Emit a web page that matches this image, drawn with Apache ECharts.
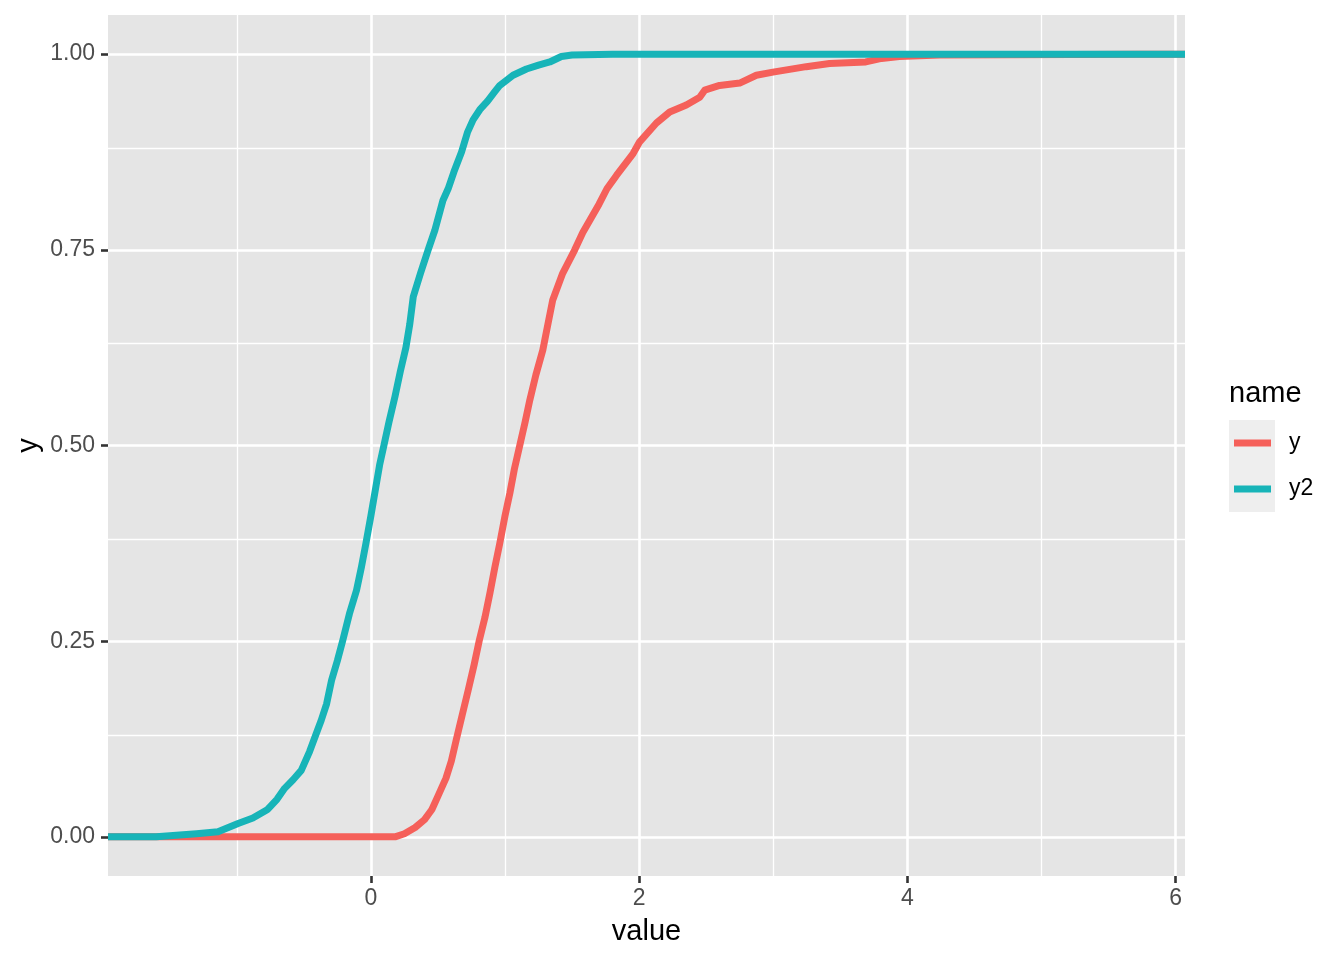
<!DOCTYPE html>
<html>
<head>
<meta charset="utf-8">
<script src="https://cdn.jsdelivr.net/npm/echarts@6/dist/echarts.min.js"></script>
<style>
html,body{margin:0;padding:0;background:#fff;}
#chart{width:1344px;height:960px;}
</style>
</head>
<body>
<div id="chart"></div>
<script>
// ---- data (ECDF: x value at cumulative proportion) ----
const seriesNames = ['y', 'y2'];

const yX = [0.18, 0.25, 0.33, 0.40, 0.455, 0.50, 0.56, 0.60, 0.638, 0.68, 0.725, 0.77, 0.807, 0.85, 0.887, 0.925, 0.961, 1.0, 1.036, 1.07, 1.11, 1.15, 1.185, 1.23, 1.282, 1.32, 1.356, 1.43, 1.52, 1.58, 1.64, 1.70, 1.76, 1.831, 1.955, 2.004, 2.129, 2.228, 2.352, 2.452, 2.489, 2.60, 2.75, 2.874, 2.998, 3.246, 3.42, 3.69, 3.79, 3.94, 4.24, 5.71];
const yP = [0, 0.004, 0.012, 0.022, 0.035, 0.052, 0.075, 0.097, 0.125, 0.155, 0.187, 0.22, 0.25, 0.28, 0.311, 0.345, 0.375, 0.41, 0.439, 0.47, 0.50, 0.53, 0.558, 0.59, 0.622, 0.655, 0.686, 0.72, 0.75, 0.772, 0.79, 0.808, 0.828, 0.845, 0.873, 0.888, 0.912, 0.926, 0.935, 0.945, 0.954, 0.960, 0.963, 0.973, 0.977, 0.984, 0.988, 0.990, 0.994, 0.997, 0.999, 1.0];

const y2X = [-1.60, -1.45, -1.30, -1.14, -0.99, -0.88, -0.77, -0.70, -0.643, -0.58, -0.519, -0.457, -0.407, -0.370, -0.33, -0.293, -0.25, -0.211, -0.16, -0.107, -0.07, -0.037, 0.0, 0.037, 0.065, 0.097, 0.135, 0.179, 0.22, 0.261, 0.29, 0.316, 0.37, 0.427, 0.477, 0.537, 0.576, 0.62, 0.676, 0.72, 0.762, 0.812, 0.87, 0.924, 0.961, 1.06, 1.16, 1.25, 1.334, 1.42, 1.50, 1.80];
const y2P = [0, 0.002, 0.004, 0.0064, 0.017, 0.024, 0.035, 0.048, 0.062, 0.073, 0.085, 0.109, 0.132, 0.149, 0.17, 0.200, 0.225, 0.25, 0.285, 0.315, 0.345, 0.375, 0.41, 0.447, 0.475, 0.50, 0.53, 0.562, 0.595, 0.625, 0.655, 0.690, 0.72, 0.75, 0.775, 0.813, 0.828, 0.85, 0.875, 0.90, 0.916, 0.929, 0.94, 0.952, 0.960, 0.973, 0.981, 0.986, 0.990, 0.997, 0.999, 1.0];

const xMajor = [0, 2, 4, 6];
const xMinor = [-1, 1, 3, 5];
const yMajor = [0, 0.25, 0.5, 0.75, 1.0];
const yMinor = [0.125, 0.375, 0.625, 0.875];
const xLimits = [-1.96, 6.07];
const yLimits = [-0.05, 1.05];

// ---- styling ----
const COLORS = ['#F5605A', '#17B4B8'];
const PANEL = '#E5E5E5';
const KEYBG = '#EEEEEE';
const FONT = '"Liberation Sans", Arial, Helvetica, sans-serif';

function ecdfData(xs, ps) {
  const d = [[xLimits[0], 0]];
  for (let i = 0; i < xs.length; i++) d.push([xs[i], ps[i]]);
  d.push([xLimits[1], 1]);
  return d;
}

const gridLines = [];
xMinor.forEach(v => gridLines.push({xAxis: v, lineStyle: {color: '#fff', width: 1.3, type: 'solid'}}));
yMinor.forEach(v => gridLines.push({yAxis: v, lineStyle: {color: '#fff', width: 1.3, type: 'solid'}}));
xMajor.forEach(v => gridLines.push({xAxis: v, lineStyle: {color: '#fff', width: 2.6, type: 'solid'}}));
yMajor.forEach(v => gridLines.push({yAxis: v, lineStyle: {color: '#fff', width: 2.6, type: 'solid'}}));

const chart = echarts.init(document.getElementById('chart'), null, {renderer: 'canvas'});

const tickStyle = {color: '#333333', width: 2.6};

const option = {
  animation: false,
  backgroundColor: '#fff',
  grid: {
    left: 108, top: 15, right: 159, bottom: 84,
    show: true, backgroundColor: PANEL, borderWidth: 0
  },
  xAxis: {
    type: 'value',
    min: xLimits[0], max: xLimits[1],
    axisLine: {show: false, onZero: false},
    splitLine: {show: false},
    axisTick: {show: true, customValues: xMajor, length: 7, lineStyle: tickStyle},
    axisLabel: {
      customValues: xMajor, margin: 11,
      color: '#4D4D4D', fontSize: 23, fontFamily: FONT,
      formatter: v => String(v)
    }
  },
  yAxis: {
    type: 'value',
    min: yLimits[0], max: yLimits[1],
    axisLine: {show: false, onZero: false},
    splitLine: {show: false},
    axisTick: {show: true, customValues: yMajor, length: 7, lineStyle: tickStyle},
    axisLabel: {
      customValues: yMajor, margin: 13,
      color: '#4D4D4D', fontSize: 23, fontFamily: FONT,
      formatter: v => v.toFixed(2)
    }
  },
  series: [
    {
      type: 'line', name: 'grid', data: [], z: 1, silent: true,
      markLine: {
        z: 1, silent: true, symbol: ['none', 'none'], label: {show: false},
        animation: false, emphasis: {disabled: true},
        data: gridLines
      }
    },
    {
      type: 'line', name: seriesNames[0], data: ecdfData(yX, yP), z: 3,
      showSymbol: false, symbol: 'none', silent: true,
      lineStyle: {color: COLORS[0], width: 7, join: 'round', cap: 'butt'}
    },
    {
      type: 'line', name: seriesNames[1], data: ecdfData(y2X, y2P), z: 4,
      showSymbol: false, symbol: 'none', silent: true,
      lineStyle: {color: COLORS[1], width: 7, join: 'round', cap: 'butt'}
    }
  ],
  graphic: [
    // axis titles
    {type: 'text', x: 646.5, y: 932, style: {text: 'value', font: '29px ' + FONT, fill: '#000', textAlign: 'center', textVerticalAlign: 'middle'}},
    {type: 'text', x: 29, y: 445.5, rotation: Math.PI / 2, style: {text: 'y', font: '29px ' + FONT, fill: '#000', textAlign: 'center', textVerticalAlign: 'middle'}},
    // legend
    {type: 'text', x: 1229, y: 394, style: {text: 'name', font: '29px ' + FONT, fill: '#000', textAlign: 'left', textVerticalAlign: 'middle'}},
    {type: 'rect', shape: {x: 1229, y: 420, width: 46, height: 46}, style: {fill: KEYBG}},
    {type: 'rect', shape: {x: 1229, y: 466, width: 46, height: 46}, style: {fill: KEYBG}},
    {type: 'line', shape: {x1: 1234, y1: 443, x2: 1271, y2: 443}, style: {stroke: COLORS[0], lineWidth: 7}},
    {type: 'line', shape: {x1: 1234, y1: 489, x2: 1271, y2: 489}, style: {stroke: COLORS[1], lineWidth: 7}},
    {type: 'text', x: 1289, y: 443, style: {text: seriesNames[0], font: '23px ' + FONT, fill: '#000', textAlign: 'left', textVerticalAlign: 'middle'}},
    {type: 'text', x: 1289, y: 489, style: {text: seriesNames[1], font: '23px ' + FONT, fill: '#000', textAlign: 'left', textVerticalAlign: 'middle'}}
  ]
};

chart.setOption(option);
</script>
</body>
</html>
